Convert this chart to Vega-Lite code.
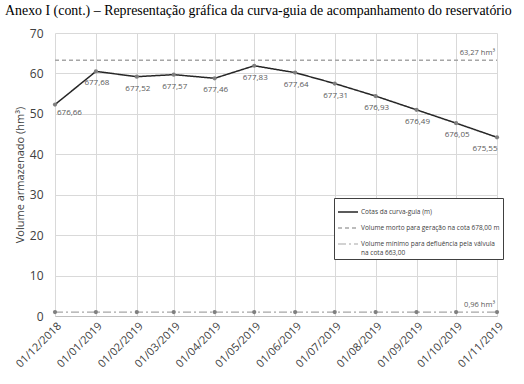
{
  "$schema": "https://vega.github.io/schema/vega-lite/v6.json",
  "width": 442,
  "height": 283,
  "autosize": "none",
  "padding": {"left": 55, "top": 33, "right": 27, "bottom": 68},
  "background": "white",
  "title": {
    "text": "Anexo I (cont.) – Representação gráfica da curva-guia de acompanhamento do reservatório",
    "font": "Liberation Serif",
    "fontSize": 13.9,
    "fontWeight": "normal",
    "color": "#000000",
    "anchor": "start",
    "frame": "group",
    "dx": -50,
    "offset": 9
  },
  "datasets": {
    "series": [
      {"date": "2018-12-01", "value": 52.3, "series": "Cotas da curva-guia (m)", "label": "676,66"},
      {"date": "2019-01-01", "value": 60.5, "series": "Cotas da curva-guia (m)", "label": "677,68"},
      {"date": "2019-02-01", "value": 59.2, "series": "Cotas da curva-guia (m)", "label": "677,52"},
      {"date": "2019-03-01", "value": 59.7, "series": "Cotas da curva-guia (m)", "label": "677,57"},
      {"date": "2019-04-01", "value": 58.8, "series": "Cotas da curva-guia (m)", "label": "677,46"},
      {"date": "2019-05-01", "value": 61.9, "series": "Cotas da curva-guia (m)", "label": "677,83"},
      {"date": "2019-06-01", "value": 60.2, "series": "Cotas da curva-guia (m)", "label": "677,64"},
      {"date": "2019-07-01", "value": 57.5, "series": "Cotas da curva-guia (m)", "label": "677,31"},
      {"date": "2019-08-01", "value": 54.4, "series": "Cotas da curva-guia (m)", "label": "676,93"},
      {"date": "2019-09-01", "value": 51.0, "series": "Cotas da curva-guia (m)", "label": "676,49"},
      {"date": "2019-10-01", "value": 47.7, "series": "Cotas da curva-guia (m)", "label": "676,05"},
      {"date": "2019-11-01", "value": 44.2, "series": "Cotas da curva-guia (m)", "label": "675,55"},
      {"date": "2018-12-01", "value": 63.27, "series": "Volume morto para geração na cota 678,00 m"},
      {"date": "2019-01-01", "value": 63.27, "series": "Volume morto para geração na cota 678,00 m"},
      {"date": "2019-02-01", "value": 63.27, "series": "Volume morto para geração na cota 678,00 m"},
      {"date": "2019-03-01", "value": 63.27, "series": "Volume morto para geração na cota 678,00 m"},
      {"date": "2019-04-01", "value": 63.27, "series": "Volume morto para geração na cota 678,00 m"},
      {"date": "2019-05-01", "value": 63.27, "series": "Volume morto para geração na cota 678,00 m"},
      {"date": "2019-06-01", "value": 63.27, "series": "Volume morto para geração na cota 678,00 m"},
      {"date": "2019-07-01", "value": 63.27, "series": "Volume morto para geração na cota 678,00 m"},
      {"date": "2019-08-01", "value": 63.27, "series": "Volume morto para geração na cota 678,00 m"},
      {"date": "2019-09-01", "value": 63.27, "series": "Volume morto para geração na cota 678,00 m"},
      {"date": "2019-10-01", "value": 63.27, "series": "Volume morto para geração na cota 678,00 m"},
      {"date": "2019-11-01", "value": 63.27, "series": "Volume morto para geração na cota 678,00 m"},
      {"date": "2018-12-01", "value": 0.96, "series": "Volume mínimo para defluência pela válvula na cota 663,00"},
      {"date": "2019-01-01", "value": 0.96, "series": "Volume mínimo para defluência pela válvula na cota 663,00"},
      {"date": "2019-02-01", "value": 0.96, "series": "Volume mínimo para defluência pela válvula na cota 663,00"},
      {"date": "2019-03-01", "value": 0.96, "series": "Volume mínimo para defluência pela válvula na cota 663,00"},
      {"date": "2019-04-01", "value": 0.96, "series": "Volume mínimo para defluência pela válvula na cota 663,00"},
      {"date": "2019-05-01", "value": 0.96, "series": "Volume mínimo para defluência pela válvula na cota 663,00"},
      {"date": "2019-06-01", "value": 0.96, "series": "Volume mínimo para defluência pela válvula na cota 663,00"},
      {"date": "2019-07-01", "value": 0.96, "series": "Volume mínimo para defluência pela válvula na cota 663,00"},
      {"date": "2019-08-01", "value": 0.96, "series": "Volume mínimo para defluência pela válvula na cota 663,00"},
      {"date": "2019-09-01", "value": 0.96, "series": "Volume mínimo para defluência pela válvula na cota 663,00"},
      {"date": "2019-10-01", "value": 0.96, "series": "Volume mínimo para defluência pela válvula na cota 663,00"},
      {"date": "2019-11-01", "value": 0.96, "series": "Volume mínimo para defluência pela válvula na cota 663,00"}
    ],
    "notes": [
      {"date": "2019-11-01", "value": 63.27, "note": "63,27 hm³"},
      {"date": "2019-11-01", "value": 0.96, "note": "0,96 hm³"}
    ]
  },
  "encoding": {
    "x": {
      "field": "date",
      "type": "temporal",
      "scale": {
        "type": "utc",
        "nice": false,
        "domain": [
          {"year": 2018, "month": 12, "date": 1, "utc": true},
          {"year": 2019, "month": 11, "date": 1, "utc": true}
        ]
      },
      "axis": {
        "title": null,
        "format": "%d/%m/%Y",
        "tickCount": "month",
        "labelAngle": -45,
        "labelFontSize": 11,
        "labelColor": "#404040",
        "labelPadding": 4,
        "ticks": false,
        "domainColor": "#bfbfbf",
        "gridColor": "#d9d9d9",
        "labelOverlap": false,
        "labelFlush": false,
        "labelBound": false
      }
    },
    "y": {
      "field": "value",
      "type": "quantitative",
      "scale": {"domain": [0, 70], "nice": false},
      "axis": {
        "title": "Volume armazenado (hm³)",
        "values": [0, 10, 20, 30, 40, 50, 60, 70],
        "domain": false,
        "ticks": false,
        "labelPadding": 12,
        "labelFontSize": 12,
        "labelColor": "#404040",
        "titleFontSize": 11,
        "titleFontWeight": "normal",
        "titleColor": "#404040",
        "titlePadding": 4,
        "gridColor": "#d9d9d9"
      }
    }
  },
  "layer": [
    {
      "data": {"name": "series"},
      "mark": {"type": "line"},
      "encoding": {
        "color": {
          "field": "series",
          "type": "nominal",
          "scale": {
            "domain": [
              "Cotas da curva-guia (m)",
              "Volume morto para geração na cota 678,00 m",
              "Volume mínimo para defluência pela válvula na cota 663,00"
            ],
            "range": ["#262626", "#a6a6a6", "#a6a6a6"]
          },
          "legend": {
            "title": null,
            "orient": "none",
            "legendX": 279,
            "legendY": 165,
            "direction": "vertical",
            "fillColor": "white",
            "strokeColor": "#404040",
            "padding": 3,
            "rowPadding": 1,
            "symbolType": "stroke",
            "symbolSize": 400,
            "symbolStrokeWidth": 1.3,
            "labelFont": "Open Sans",
            "labelFontSize": 6.5,
            "labelColor": "#404040",
            "labelLimit": 300,
            "labelOffset": 2,
            "labelExpr": "datum.label == 'Volume mínimo para defluência pela válvula na cota 663,00' ? ['Volume mínimo para defluência pela válvula', 'na cota 663,00'] : datum.label"
          }
        },
        "strokeDash": {
          "field": "series",
          "type": "nominal",
          "scale": {
            "domain": [
              "Cotas da curva-guia (m)",
              "Volume morto para geração na cota 678,00 m",
              "Volume mínimo para defluência pela válvula na cota 663,00"
            ],
            "range": [[1, 0], [4, 3], [8, 3, 2, 3]]
          }
        },
        "strokeWidth": {
          "field": "series",
          "type": "nominal",
          "scale": {
            "domain": [
              "Cotas da curva-guia (m)",
              "Volume morto para geração na cota 678,00 m",
              "Volume mínimo para defluência pela válvula na cota 663,00"
            ],
            "range": [1.5, 1.2, 1.2]
          },
          "legend": null
        }
      }
    },
    {
      "data": {"name": "series"},
      "transform": [{"filter": "datum.series != 'Volume morto para geração na cota 678,00 m'"}],
      "mark": {"type": "point", "filled": true, "size": 18, "color": "#7f7f7f", "opacity": 1}
    },
    {
      "data": {"name": "series"},
      "transform": [{"filter": "datum.label != null && datum.label != '676,66' && datum.label != '675,55'"}],
      "mark": {"type": "text", "align": "center", "baseline": "middle", "dx": 1, "dy": 12, "font": "Open Sans", "fontSize": 8, "color": "#595959"},
      "encoding": {"text": {"field": "label"}}
    },
    {
      "data": {"name": "series"},
      "transform": [{"filter": "datum.label == '676,66'"}],
      "mark": {"type": "text", "align": "left", "baseline": "middle", "dx": 2, "dy": 8, "font": "Open Sans", "fontSize": 8, "color": "#595959"},
      "encoding": {"text": {"field": "label"}}
    },
    {
      "data": {"name": "series"},
      "transform": [{"filter": "datum.label == '675,55'"}],
      "mark": {"type": "text", "align": "center", "baseline": "middle", "dx": -12, "dy": 12, "font": "Open Sans", "fontSize": 8, "color": "#595959"},
      "encoding": {"text": {"field": "label"}}
    },
    {
      "data": {"name": "notes"},
      "mark": {"type": "text", "align": "right", "baseline": "middle", "dx": -2, "dy": -7, "font": "Open Sans", "fontSize": 7.5, "color": "#595959"},
      "encoding": {"text": {"field": "note"}}
    }
  ],
  "config": {
    "view": {"stroke": null},
    "font": "Open Sans",
    "axis": {"labelFont": "Open Sans", "titleFont": "Open Sans"}
  }
}
